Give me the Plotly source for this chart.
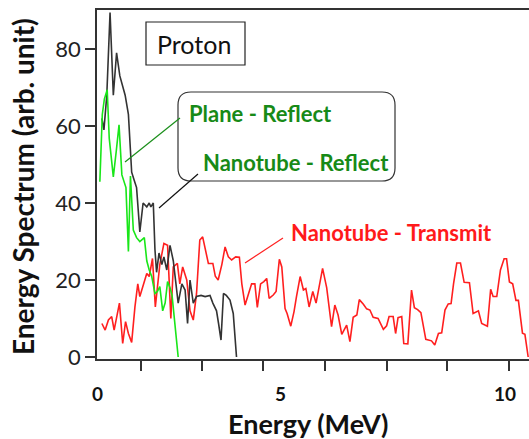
import plotly.graph_objects as go

# ---------------- data ----------------
plane_reflect_x = [0.07, 0.13, 0.18, 0.25, 0.30, 0.40, 0.47, 0.54, 0.61, 0.67, 0.71, 0.77, 0.82,
                   0.89, 0.97, 1.05, 1.16, 1.22, 1.28, 1.34, 1.42, 1.48, 1.54, 1.61, 1.67, 1.73,
                   1.79, 1.84, 1.91, 1.99]
plane_reflect_y = [45.5, 63, 67, 69.4, 56.8, 46.8, 53.3, 60.3, 47.3, 45, 44, 27.4, 47,
                   33, 31, 30, 31, 25, 22.6, 21, 16.5, 17, 18.3, 12, 14, 19.6,
                   18, 16, 8, 0]

nanotube_reflect_x = [0.12, 0.17, 0.24, 0.32, 0.40, 0.48, 0.56, 0.69, 0.77, 0.81, 0.85, 0.91, 0.97,
                      1.05, 1.13, 1.22, 1.28, 1.32, 1.38, 1.42, 1.46, 1.52, 1.59, 1.64, 1.71, 1.79,
                      1.87, 1.99, 2.08, 2.16, 2.22, 2.28, 2.36, 2.44, 2.55, 2.65, 2.77, 2.84, 2.93,
                      2.98, 3.04, 3.10, 3.17, 3.26, 3.34, 3.42]
nanotube_reflect_y = [62, 59, 68, 89.5, 68, 79, 73, 68, 63, 55, 48, 46, 44,
                      32.5, 40, 39, 40, 39, 40, 28, 22, 27, 24, 26, 22.6, 29,
                      25, 14, 19, 17.4, 8.7, 20, 14, 15.7, 16, 15.7, 16, 14, 12,
                      8.7, 4.4, 16.5, 16, 14.8, 11.3, 0]

nanotube_transmit_x = [0.12, 0.20, 0.28, 0.36, 0.42, 0.55, 0.63, 0.70, 0.77, 0.85, 0.93, 1.00, 1.05,
                       1.13, 1.22, 1.28, 1.36, 1.43, 1.54, 1.64, 1.73, 1.81, 1.87, 1.97, 2.03, 2.10,
                       2.20, 2.28, 2.36, 2.44, 2.52, 2.59, 2.65, 2.73, 2.84, 2.90, 2.97, 3.06, 3.14,
                       3.22, 3.30, 3.40, 3.49, 3.55, 3.63, 3.71, 3.79, 3.87, 3.93, 4.01, 4.09, 4.16,
                       4.22, 4.32, 4.39, 4.47, 4.53, 4.61, 4.66, 4.75, 4.83, 4.89, 4.98, 5.06, 5.12,
                       5.20, 5.29, 5.37, 5.45, 5.53, 5.63, 5.75, 5.83, 5.91, 6.00, 6.12, 6.20, 6.28,
                       6.37, 6.43, 6.53, 6.61, 6.69, 6.77, 6.89, 7.02, 7.10, 7.16, 7.26, 7.32, 7.38,
                       7.47, 7.52, 7.62, 7.71, 7.78, 7.86, 7.94, 8.06, 8.20, 8.28, 8.37, 8.45, 8.53,
                       8.61, 8.68, 8.74, 8.82, 8.91, 9.00, 9.13, 9.22, 9.35, 9.43, 9.57, 9.65, 9.71,
                       9.80, 9.89, 9.98, 10.04, 10.11, 10.19, 10.27, 10.33, 10.43, 10.49, 10.57]
nanotube_transmit_y = [8.7, 7, 9.6, 10.5, 7, 14, 3.5, 9.2, 6.1, 3.8, 13, 19, 15.7,
                       18.5, 21.7, 20.9, 25.6, 13, 24, 29.5, 29, 10, 23.4, 24.3, 19, 23.4,
                       20, 12, 9.6, 16.5, 30.4, 31.2, 27.8, 24.3, 24.3, 21, 20, 24, 28.6,
                       26, 25.2, 26, 25.9, 19, 13.5, 16, 19, 19, 12.9, 19, 19.6, 20.4,
                       15.2, 16.1, 17, 25.4, 23.4, 12.6, 11.3, 8, 11.8, 15.7, 20.9, 17.4, 17.8,
                       13, 17, 14, 19, 23, 18, 7.9, 13.5, 10.9, 5.9, 8.3, 4, 10.3,
                       10.9, 14.9, 13.7, 12.5, 12.2, 10.3, 10, 7.2, 8.1, 10.5, 10.5, 6.1, 10.2,
                       10.5, 3.5, 3.4, 17.4, 12.8, 12.3, 11.5, 4.6, 4.2, 3.1, 6.1, 6.3, 12.2,
                       13.8, 13.9, 19, 24.4, 24.4, 19.4, 19.3, 11.3, 12, 8.7, 8, 17.6, 15.7,
                       15.7, 22.6, 25.5, 25.5, 19.5, 19, 14.7, 14.7, 6.2, 5.9, 0]

y_tick_values = [0, 20, 40, 60, 80]
x_tick_marks = [1.08, 2.58, 4.08, 5.6, 7.1, 8.58, 10.1]
x_tick_labels = ["0", "5", "10"]
x_tick_label_pos = [0, 4.49, 10]

# ---------------- layout helpers ----------------
W_IMG, H_IMG = 529, 439
L, T, PW, PH = 97, 10, 432, 349
FONT = "Lato"


def px(x):
    return (x - L) / PW


def py(y):
    return (T + PH - y) / PH


fig = go.Figure()
fig.add_trace(go.Scatter(x=nanotube_transmit_x, y=nanotube_transmit_y, mode="lines",
                         line=dict(color="#ff1f1f", width=1.6), name="Nanotube - Transmit"))
fig.add_trace(go.Scatter(x=nanotube_reflect_x, y=nanotube_reflect_y, mode="lines",
                         line=dict(color="#333333", width=1.6), name="Nanotube - Reflect"))
fig.add_trace(go.Scatter(x=plane_reflect_x, y=plane_reflect_y, mode="lines",
                         line=dict(color="#19e619", width=1.6), name="Plane - Reflect"))

shapes = []
# Proton box
shapes.append(dict(type="rect", xref="paper", yref="paper",
                   x0=px(146), x1=px(245), y0=py(65), y1=py(22),
                   line=dict(color="#222", width=1.2), fillcolor="white", layer="above"))
# rounded box
l, r, t, b = px(178), px(395), py(92), py(181)
rx, ry = 13 / PW, 13 / PH
path = (f"M {l+rx},{t} L {r-rx},{t} Q {r},{t} {r},{t-ry} L {r},{b+ry} Q {r},{b} {r-rx},{b} "
        f"L {l+rx},{b} Q {l},{b} {l},{b+ry} L {l},{t-ry} Q {l},{t} {l+rx},{t} Z")
shapes.append(dict(type="path", xref="paper", yref="paper", path=path,
                   line=dict(color="#333", width=1.2), fillcolor="white", layer="above"))
# connector lines
shapes.append(dict(type="line", xref="paper", yref="paper", x0=px(180), y0=py(118), x1=px(125), y1=py(162),
                   line=dict(color="#1a8f1a", width=1.2)))
shapes.append(dict(type="line", xref="paper", yref="paper", x0=px(198), y0=py(174), x1=px(159), y1=py(208),
                   line=dict(color="#111", width=1.2)))
shapes.append(dict(type="line", xref="paper", yref="paper", x0=px(283), y0=py(238), x1=px(245), y1=py(263),
                   line=dict(color="#ff2020", width=1.2)))


def ann(text, x, y, size, color, xref="paper", angle=0):
    return dict(text=text, xref=xref, yref="paper", x=x, y=y, xanchor="center", yanchor="middle",
                textangle=angle, showarrow=False, font=dict(family=FONT, size=size, color=color))


annotations = [
    ann("Proton", px(194), py(44), 25, "#111"),
    ann("<b>Plane - Reflect</b>", px(260), py(114), 22, "#178a17"),
    ann("<b>Nanotube - Reflect</b>", px(296), py(162), 22, "#178a17"),
    ann("<b>Nanotube - Transmit</b>", px(391), py(232), 22, "#ff1a1a"),
    ann("<b>Energy (MeV)</b>", px(308), py(423), 27, "#111"),
    ann("<b>Energy Spectrum (arb. unit)</b>", px(23), py(187), 28, "#111", angle=-90),
]
for lab, pos in zip(x_tick_labels, x_tick_label_pos):
    annotations.append(ann(f"<b>{lab}</b>", pos, py(393), 19, "#111", xref="x"))

fig.update_layout(
    width=W_IMG, height=H_IMG,
    margin=dict(l=L, r=W_IMG - L - PW, t=T, b=H_IMG - T - PH, pad=0),
    paper_bgcolor="white", plot_bgcolor="white",
    showlegend=False,
    shapes=shapes, annotations=annotations,
    xaxis=dict(range=[0, 10.59], showgrid=False, zeroline=False,
               showline=True, linecolor="#333", linewidth=1.6, mirror=True,
               tickmode="array", tickvals=x_tick_marks, showticklabels=False,
               ticks="outside", ticklen=10, tickwidth=1.5, tickcolor="#333"),
    yaxis=dict(range=[-0.52, 90.13], showgrid=False, zeroline=False,
               showline=True, linecolor="#333", linewidth=1.6,
               tickmode="array", tickvals=y_tick_values,
               ticks="outside", ticklen=10, tickwidth=1.5, tickcolor="#333",
               tickfont=dict(family=FONT, size=22, color="#222")),
)

fig.write_html("out.html")
